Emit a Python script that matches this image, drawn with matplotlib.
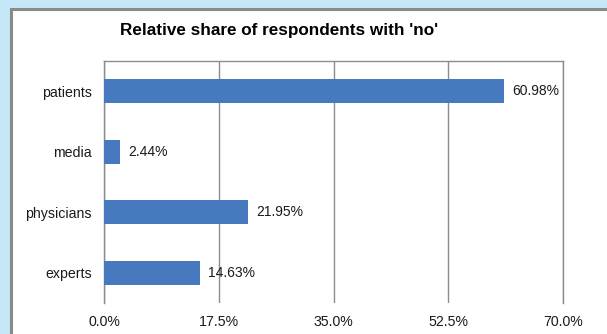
import matplotlib.pyplot as plt
from matplotlib.patches import Rectangle
from matplotlib.ticker import FuncFormatter

plt.rcParams['font.family'] = ['Liberation Sans', 'DejaVu Sans']

### Dados

groups = ['patients', 'media', 'physicians', 'experts']
shares = [60.98, 2.44, 21.95, 14.63]
x_ticks = [0.0, 17.5, 35.0, 52.5, 70.0]

W, H = 607, 334
BAR_COLOR = '#4679bd'
GRID_COLOR = '#8c8c8c'

fig = plt.figure(figsize=(W / 100, H / 100), dpi=100)
fig.patch.set_facecolor('#c6e7f7')

# moldura branca do gráfico, atrás dos eixos
frame = Rectangle((11 / W, -0.1), 1.2, (H - 9) / H + 0.1,
                  transform=fig.transFigure, facecolor='white',
                  edgecolor='#8a8a8a', linewidth=2.2, zorder=-5)
fig.patches.append(frame)

ax = fig.add_axes([104 / W, (H - 303) / H, (563 - 104) / W, (303 - 61) / H])
ax.set_zorder(2)
ax.set_facecolor('white')

ax.barh(range(len(groups)), shares, height=0.4, color=BAR_COLOR, zorder=3)
for i, v in enumerate(shares):
    ax.annotate(f'{v:.2f}%', (v, i), xytext=(6, 0), textcoords='offset points',
                va='center', ha='left', fontsize=10, color='#1a1a1a', zorder=4)

ax.set_xlim(0, 70)
ax.set_ylim(3.5, -0.5)
ax.set_xticks(x_ticks)
ax.xaxis.set_major_formatter(FuncFormatter(lambda v, _: f'{v:.1f}%'))
ax.set_yticks(range(len(groups)))
ax.set_yticklabels(groups)
ax.tick_params(axis='both', length=0, labelsize=10.2, labelcolor='#1a1a1a')
ax.tick_params(axis='y', pad=9)
ax.tick_params(axis='x', pad=9)
ax.grid(axis='x', color=GRID_COLOR, linewidth=1, zorder=1)

for side in ['left', 'top', 'right']:
    ax.spines[side].set_color(GRID_COLOR)
    ax.spines[side].set_linewidth(1)
ax.spines['bottom'].set_visible(False)

fig.text(279 / W, 1 - 30 / H, "Relative share of respondents with 'no'",
         ha='center', va='center', fontsize=12.3, fontweight='bold')

fig.savefig('out.png', dpi=100, facecolor=fig.get_facecolor())
